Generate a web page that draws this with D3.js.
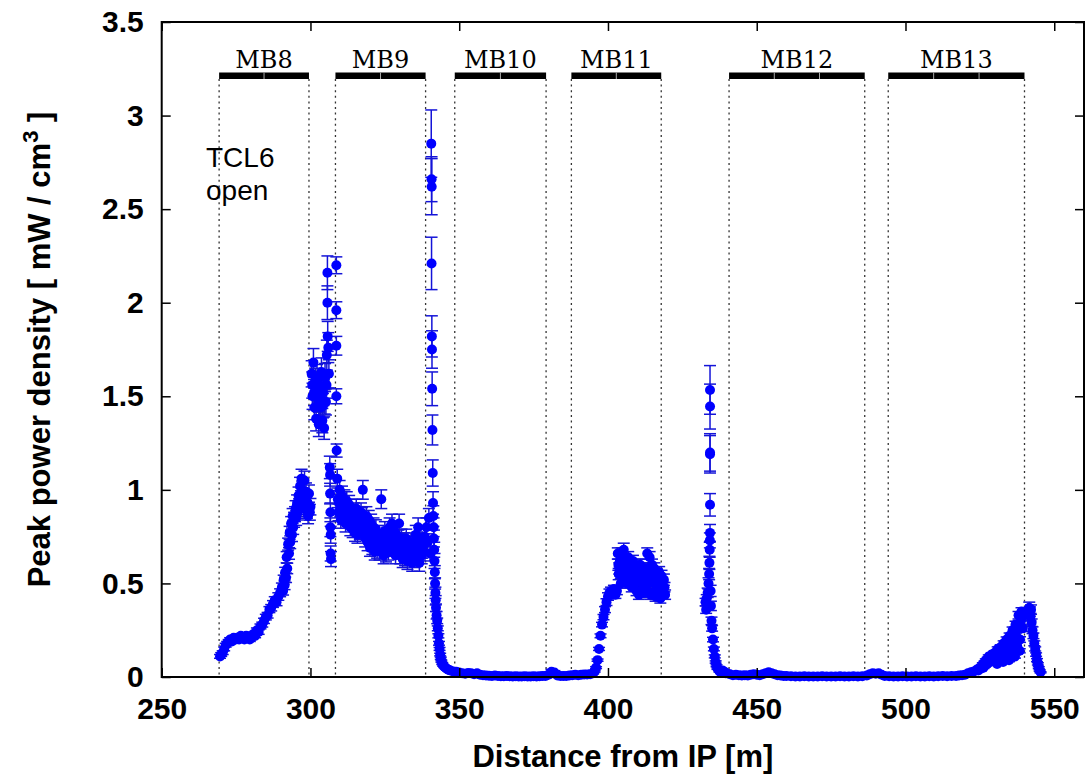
<!DOCTYPE html>
<html>
<head>
<meta charset="utf-8">
<script src="https://cdn.jsdelivr.net/npm/d3@7"></script>
<style>
    body { margin: 0; background: #fff; }
    svg { display: block; }
    .axis text { font-family: "Liberation Sans", Arial, sans-serif; font-weight: bold; font-size: 30px; fill: #000; }
    .axis line { stroke: #000; stroke-width: 1.5px; }
    .axis path { display: none; }
</style>
</head>
<body>
<svg id="chart" width="1087" height="774"></svg>
<script>
// tick values
const xTicks = [250, 300, 350, 400, 450, 500, 550];
const yTicks = [0, 0.5, 1, 1.5, 2, 2.5, 3, 3.5];

// dipole magnets along the line
const magnetNames = ['MB8', 'MB9', 'MB10', 'MB11', 'MB12', 'MB13'];
const magnetStart = [269.3, 308.4, 348.5, 387.7, 440.7, 494.2];
const magnetEnd = [299.5, 338.7, 379.2, 417.9, 486.3, 540.0];
const magnetSegments = [2, 2, 2, 2, 3, 3];

// [distance m, peak power density mW/cm3, error]
const mb8Points = [
    [269.6,0.11,0.01],[270.0,0.12,0.01],[270.5,0.13,0.01],[271.0,0.15,0.01],[271.5,0.17,0.01],[272.0,0.18,0.01],
    [272.5,0.19,0.01],[273.0,0.2,0.01],[273.6,0.19,0.01],[274.2,0.21,0.01],[274.8,0.2,0.01],[275.4,0.21,0.01],
    [276.0,0.2,0.01],[276.6,0.22,0.01],[277.2,0.21,0.01],[277.8,0.2,0.01],[278.4,0.22,0.01],[279.0,0.21,0.01],
    [279.6,0.2,0.01],[280.2,0.21,0.01],[280.8,0.23,0.01],[281.4,0.22,0.01],[282.0,0.25,0.012],[282.6,0.24,0.012],
    [283.2,0.27,0.013],[283.8,0.28,0.013],[284.4,0.3,0.014],[285.0,0.32,0.015],[285.6,0.33,0.015],[286.2,0.36,0.016],
    [286.8,0.37,0.017],[287.4,0.39,0.018],[288.0,0.41,0.019],[288.6,0.4,0.019],[289.2,0.43,0.02],[289.8,0.45,0.021],
    [290.4,0.48,0.022],[291.0,0.52,0.024],[291.5,0.56,0.026],[292.0,0.64,0.03],[292.5,0.71,0.032],[293.0,0.77,0.035],
    [293.5,0.82,0.037],[294.0,0.86,0.04],[294.5,0.84,0.04],[295.0,0.9,0.042],[295.5,0.93,0.043],[296.0,0.97,0.045],
    [296.5,1.02,0.047],[297.0,1.06,0.05],[297.5,0.96,0.045],[298.0,1.05,0.05],[298.5,0.99,0.047],[299.0,0.93,0.045],
    [299.5,0.98,0.046],[300.0,0.91,0.044],
    [290.8,0.46,0.022],[291.3,0.49,0.023],[291.8,0.53,0.025],[292.2,0.58,0.028],[292.8,0.66,0.031],[293.2,0.72,0.034],
    [293.8,0.76,0.036],[294.2,0.8,0.038],[294.8,0.87,0.04],[295.2,0.85,0.04],[295.8,0.88,0.041],[296.2,0.91,0.043],
    [296.8,0.95,0.045],[297.2,1.0,0.047],[297.8,0.9,0.043],[298.2,0.95,0.045],[298.8,0.89,0.042],[299.2,0.86,0.041],
    [299.8,0.88,0.042]
];
const peakPoints = [
    [300.4,1.62,0.07],[300.7,1.5,0.07],[301.0,1.68,0.075],[301.3,1.44,0.065],[301.6,1.58,0.07],[301.9,1.38,0.065],
    [302.2,1.6,0.07],[302.5,1.49,0.07],[302.8,1.35,0.065],[303.1,1.56,0.07],[303.4,1.44,0.065],[303.7,1.63,0.075],
    [304.0,1.37,0.065],[304.3,1.52,0.07],[304.6,1.33,0.06],[304.9,1.6,0.075],[305.2,1.47,0.07],[305.5,1.72,0.08],
    [305.7,2.16,0.09],[305.7,2.0,0.09],[305.8,1.82,0.08],[306.0,1.76,0.08],[306.2,1.62,0.075],
    [300.6,1.56,0.07],[301.2,1.52,0.07],[301.8,1.5,0.07],[302.4,1.54,0.07],[303.0,1.46,0.065],[303.6,1.52,0.07],
    [304.2,1.45,0.065],[304.8,1.47,0.065],[305.4,1.56,0.07],
    [306.5,1.12,0.06],[306.6,1.08,0.06],[306.6,0.98,0.055],[306.7,0.88,0.05],[306.7,0.8,0.05],[306.8,0.76,0.045],
    [306.8,0.66,0.04],[306.9,0.63,0.04],
    [308.7,2.2,0.045],[308.7,1.96,0.045],[308.7,1.77,0.05],[308.7,1.5,0.04],[308.8,1.21,0.035]
];
const mb9Points = [
    [309.0,1.06,0.05],[309.4,0.88,0.045],[309.8,1.0,0.05],[310.2,0.84,0.045],[310.6,0.97,0.05],[311.0,0.86,0.045],
    [311.4,0.95,0.05],[311.8,0.82,0.045],[312.2,0.94,0.05],[312.6,0.85,0.045],[313.0,0.92,0.05],[313.4,0.8,0.045],
    [313.8,0.9,0.05],[314.2,0.79,0.045],[314.6,0.88,0.05],[315.0,0.77,0.045],[315.4,0.9,0.05],[315.8,0.76,0.045],
    [316.2,0.86,0.05],[316.6,0.78,0.045],[317.0,0.88,0.05],[317.6,1.0,0.05],[318.0,0.82,0.045],[318.4,0.74,0.045],
    [318.8,0.86,0.05],[319.2,0.72,0.045],[319.6,0.84,0.05],[320.0,0.69,0.045],[320.4,0.82,0.05],[320.8,0.7,0.045],
    [321.2,0.8,0.05],[321.6,0.67,0.045],[322.0,0.79,0.05],[322.4,0.68,0.045],[322.8,0.76,0.05],[323.2,0.67,0.045],
    [323.8,0.95,0.05],[324.2,0.74,0.045],[324.6,0.65,0.045],[325.0,0.78,0.05],[325.4,0.66,0.045],[325.8,0.75,0.05],
    [326.2,0.67,0.045],[326.6,0.8,0.05],[327.0,0.69,0.045],[327.4,0.82,0.05],[327.8,0.71,0.045],[328.2,0.78,0.05],
    [328.6,0.65,0.045],[329.0,0.76,0.05],[329.4,0.68,0.045],[329.8,0.82,0.05],[330.2,0.65,0.045],[330.6,0.74,0.05],
    [331.0,0.63,0.045],[331.4,0.72,0.05],[331.8,0.64,0.045],[332.2,0.74,0.05],[332.6,0.62,0.045],[333.0,0.7,0.05],
    [333.4,0.64,0.045],[333.8,0.72,0.05],[334.2,0.61,0.045],[334.6,0.7,0.05],[335.0,0.63,0.045],[335.4,0.76,0.05],
    [335.8,0.67,0.045],[336.2,0.8,0.05],[336.6,0.61,0.045],[337.0,0.72,0.05],[337.4,0.65,0.045],[337.8,0.7,0.05],
    [309.2,0.95,0.045],[309.6,0.93,0.045],[310.0,0.9,0.045],[310.4,0.9,0.045],[310.8,0.91,0.045],[311.2,0.9,0.045],
    [311.6,0.88,0.045],[312.0,0.87,0.045],[312.4,0.88,0.045],[312.8,0.86,0.045],[313.2,0.85,0.045],[313.6,0.86,0.045],
    [314.0,0.84,0.045],[314.4,0.83,0.045],[314.8,0.82,0.045],[315.2,0.83,0.045],[315.6,0.82,0.045],[316.0,0.8,0.045],
    [316.4,0.82,0.045],[316.8,0.83,0.045],[317.3,0.86,0.045],[318.2,0.79,0.045],[318.6,0.8,0.045],[319.0,0.78,0.045],
    [319.4,0.77,0.045],[319.8,0.76,0.045],[320.2,0.75,0.045],[320.6,0.76,0.045],[321.0,0.74,0.045],[321.4,0.73,0.045],
    [321.8,0.73,0.045],[322.2,0.72,0.045],[322.6,0.72,0.045],[323.0,0.71,0.045],[323.5,0.72,0.045],[324.0,0.7,0.045],
    [324.4,0.7,0.045],[324.8,0.71,0.045],[325.2,0.71,0.045],[325.6,0.7,0.045],[326.0,0.71,0.045],[326.4,0.73,0.045],
    [326.8,0.74,0.045],[327.2,0.75,0.045],[327.6,0.76,0.045],[328.0,0.73,0.045],[328.4,0.71,0.045],[328.8,0.7,0.045],
    [329.2,0.72,0.045],[329.6,0.74,0.045],[330.0,0.72,0.045],[330.4,0.7,0.045],[330.8,0.68,0.045],[331.2,0.68,0.045],
    [331.6,0.68,0.045],[332.0,0.69,0.045],[332.4,0.68,0.045],[332.8,0.66,0.045],[333.2,0.67,0.045],[333.6,0.68,0.045],
    [334.0,0.66,0.045],[334.4,0.65,0.045],[334.8,0.66,0.045],[335.2,0.69,0.045],[335.6,0.71,0.045],[336.0,0.73,0.045],
    [336.4,0.7,0.045],[336.8,0.67,0.045],[337.2,0.68,0.045],[337.6,0.68,0.045],[338.0,0.72,0.045],[338.4,0.75,0.045]
];
const spikePoints = [
    [339.0,0.8,0.05],[339.4,0.72,0.045],[339.8,0.85,0.05],[340.2,0.66,0.04],
    [340.6,2.85,0.18],[340.7,2.66,0.12],[340.75,2.62,0.15],[340.7,2.21,0.14],[340.8,1.82,0.11],[340.85,1.75,0.1],
    [340.9,1.54,0.09],[341.0,1.32,0.08],[341.1,1.09,0.07],[341.2,0.93,0.06],[341.3,0.86,0.055],[341.4,0.8,0.05],
    [341.5,0.74,0.045],[341.6,0.68,0.04],[341.7,0.62,0.04],[341.8,0.56,0.035],[341.9,0.5,0.03],[342.0,0.45,0.03],
    [342.1,0.41,0.025],[342.2,0.37,0.02],[342.4,0.33,0.02]
];
const tailPoints = [
    [342.6,0.3,0.015],[342.8,0.26,0.013],[343.0,0.22,0.011],[343.2,0.18,0.01],[343.4,0.15,0.008],[343.6,0.12,0.007],
    [343.8,0.1,0.006],[344.0,0.085,0.005],[344.3,0.072,0.005],[344.6,0.062,0.004],[345.0,0.055,0.004],[345.5,0.048,0.004],
    [346.0,0.042,0.003],[346.5,0.038,0.003],[347.0,0.035,0.003],[348.0,0.03,0.003],[349.0,0.028,0.003],[350.0,0.024,0.003],
    [351.0,0.02,0.003],[352.0,0.018,0.003],[353.0,0.022,0.003],[354.0,0.02,0.003],[355.0,0.015,0.002],[356.0,0.02,0.003],
    [357.0,0.012,0.002],[358.0,0.01,0.002],[359.0,0.008,0.002],[360.0,0.007,0.002],[361.0,0.006,0.002],[362.0,0.008,0.002],
    [363.0,0.005,0.002],[364.0,0.004,0.002],[365.0,0.004,0.002],[366.0,0.005,0.002],[367.0,0.004,0.002],[368.0,0.003,0.002],
    [369.0,0.004,0.002],[370.0,0.003,0.002],[371.0,0.003,0.002],[372.0,0.004,0.002],[373.0,0.003,0.002],[374.0,0.003,0.002],
    [375.0,0.004,0.002],[376.0,0.003,0.002],[377.0,0.004,0.002],[378.0,0.005,0.002],[379.0,0.006,0.002],[380.0,0.012,0.004],
    [381.0,0.028,0.012],[381.5,0.02,0.008],[382.0,0.024,0.01],[383.0,0.008,0.003],[384.0,0.006,0.002],[385.0,0.005,0.002],
    [386.0,0.006,0.002],[387.0,0.008,0.002],[388.0,0.01,0.003],[389.0,0.012,0.003],[390.0,0.01,0.003],[391.0,0.012,0.003],
    [392.0,0.014,0.003],[393.0,0.013,0.003]
];
const mb11Points = [
    [394.0,0.015,0.003],[395.0,0.02,0.003],[395.5,0.03,0.004],[396.0,0.05,0.005],[396.5,0.09,0.006],[397.0,0.15,0.008],
    [397.5,0.22,0.01],[398.0,0.28,0.012],[398.5,0.32,0.014],[399.0,0.36,0.016],[399.5,0.4,0.018],[400.0,0.43,0.02],
    [400.5,0.45,0.02],[401.0,0.46,0.02],[401.5,0.44,0.02],[402.0,0.47,0.02],[402.5,0.44,0.02],[403.0,0.46,0.02],
    [403.3,0.66,0.03],[403.6,0.55,0.03],[404.0,0.62,0.03],[404.3,0.5,0.025],[404.6,0.66,0.03],[405.0,0.56,0.03],
    [405.3,0.68,0.035],[405.6,0.52,0.025],[406.0,0.62,0.03],[406.4,0.5,0.025],[406.8,0.64,0.03],[407.2,0.54,0.025],
    [407.6,0.6,0.03],[408.0,0.48,0.025],[408.4,0.62,0.03],[408.8,0.5,0.025],[409.2,0.6,0.03],[409.6,0.46,0.025],
    [410.0,0.58,0.03],[410.4,0.44,0.025],[410.8,0.6,0.03],[411.2,0.46,0.025],[411.6,0.56,0.03],[412.0,0.45,0.025],
    [412.4,0.58,0.03],[412.8,0.48,0.025],[413.2,0.66,0.03],[413.6,0.5,0.025],[414.0,0.64,0.03],[414.4,0.44,0.025],
    [414.8,0.6,0.03],[415.2,0.45,0.025],[415.6,0.58,0.03],[416.0,0.43,0.025],[416.4,0.55,0.03],[416.8,0.44,0.025],
    [417.2,0.56,0.03],[417.6,0.42,0.025],[418.0,0.54,0.03],[418.4,0.45,0.025],[418.8,0.52,0.03],[419.2,0.44,0.025],
    [403.5,0.6,0.03],[403.8,0.58,0.03],[404.2,0.57,0.03],[404.5,0.58,0.03],[404.8,0.6,0.03],[405.2,0.6,0.03],
    [405.5,0.6,0.03],[405.8,0.57,0.03],[406.2,0.56,0.03],[406.6,0.57,0.03],[407.0,0.58,0.03],[407.4,0.57,0.03],
    [407.8,0.54,0.025],[408.2,0.55,0.025],[408.6,0.56,0.025],[409.0,0.55,0.025],[409.4,0.53,0.025],[409.8,0.52,0.025],
    [410.2,0.51,0.025],[410.6,0.52,0.025],[411.0,0.53,0.025],[411.4,0.51,0.025],[411.8,0.5,0.025],[412.2,0.51,0.025],
    [412.6,0.53,0.025],[413.0,0.56,0.03],[413.4,0.58,0.03],[413.8,0.57,0.03],[414.2,0.54,0.025],[414.6,0.52,0.025],
    [415.0,0.52,0.025],[415.4,0.51,0.025],[415.8,0.5,0.025],[416.2,0.49,0.025],[416.6,0.49,0.025],[417.0,0.5,0.025],
    [417.4,0.49,0.025],[417.8,0.48,0.025],[418.2,0.49,0.025],[418.6,0.48,0.025],[419.0,0.48,0.025]
];
const spike2Points = [
    [432.8,0.4,0.02],[433.0,0.36,0.02],[433.2,0.42,0.02],[433.5,0.45,0.025],[433.8,0.5,0.03],[434.0,0.55,0.03],
    [434.1,0.61,0.035],[434.2,0.68,0.04],[434.25,0.73,0.04],[434.3,0.77,0.045],[434.3,0.92,0.06],[434.3,1.19,0.1],
    [434.3,1.2,0.1],[434.3,1.445,0.12],[434.3,1.534,0.13],[434.5,0.46,0.03],[434.6,0.38,0.025],[434.8,0.3,0.02],
    [435.0,0.26,0.015],[435.3,0.2,0.012],[435.6,0.15,0.01],[435.9,0.11,0.008],[436.2,0.08,0.006],[436.5,0.06,0.005],
    [436.8,0.045,0.004]
];
const tail2Points = [
    [437.5,0.03,0.004],[438.0,0.025,0.004],[438.5,0.035,0.005],[439.0,0.03,0.004],[439.5,0.02,0.004],[440.0,0.02,0.003],
    [441.0,0.015,0.003],[442.0,0.01,0.003],[443.0,0.012,0.003],[444.0,0.01,0.003],[445.0,0.008,0.002],[446.0,0.01,0.003],
    [447.0,0.008,0.002],[448.0,0.012,0.003],[449.0,0.015,0.003],[450.0,0.012,0.003],[451.0,0.01,0.003],[452.0,0.015,0.003],
    [453.0,0.02,0.004],[454.0,0.025,0.005],[455.0,0.02,0.004],[456.0,0.015,0.003],[457.0,0.01,0.003],[458.0,0.008,0.002],
    [459.0,0.006,0.002],[460.0,0.005,0.002],[461.5,0.004,0.002],[463.0,0.003,0.002],[464.5,0.003,0.002],[466.0,0.004,0.002],
    [467.5,0.003,0.002],[469.0,0.003,0.002],[470.5,0.003,0.002],[472.0,0.004,0.002],[473.5,0.003,0.002],[475.0,0.003,0.002],
    [476.5,0.003,0.002],[478.0,0.004,0.002],[479.5,0.003,0.002],[481.0,0.003,0.002],[482.5,0.004,0.002],[484.0,0.003,0.002],
    [485.5,0.004,0.002],[487.0,0.008,0.003],[488.0,0.015,0.004],[489.0,0.02,0.005],[490.0,0.018,0.004],[491.0,0.02,0.005],
    [492.0,0.012,0.003],[493.0,0.006,0.002],[494.5,0.004,0.002],[496.0,0.003,0.002],[497.5,0.003,0.002],[499.0,0.004,0.002],
    [500.5,0.003,0.002],[502.0,0.003,0.002],[503.5,0.004,0.002],[505.0,0.003,0.002],[506.5,0.003,0.002],[508.0,0.004,0.002],
    [509.5,0.003,0.002],[511.0,0.004,0.002],[512.5,0.005,0.002],[514.0,0.004,0.002],[515.5,0.005,0.002],[517.0,0.006,0.002],
    [518.0,0.008,0.002]
];
const mb13Points = [
    [519.0,0.01,0.002],[520.0,0.012,0.002],[521.0,0.02,0.003],[522.0,0.025,0.003],[523.0,0.03,0.004],[524.0,0.04,0.005],
    [524.5,0.035,0.004],[525.0,0.05,0.005],[525.5,0.045,0.005],[526.0,0.07,0.006],[526.5,0.06,0.006],[527.0,0.09,0.007],
    [527.5,0.07,0.006],[528.0,0.11,0.008],[528.5,0.08,0.007],[529.0,0.12,0.009],[529.5,0.09,0.007],[530.0,0.13,0.01],
    [530.5,0.09,0.008],[531.0,0.15,0.011],[531.5,0.1,0.008],[532.0,0.16,0.012],[532.5,0.1,0.008],[533.0,0.18,0.013],
    [533.5,0.11,0.009],[534.0,0.2,0.014],[534.5,0.12,0.01],[535.0,0.22,0.015],[535.5,0.14,0.011],[536.0,0.25,0.017],
    [536.5,0.15,0.012],[537.0,0.28,0.018],[537.5,0.17,0.013],[538.0,0.33,0.02],[538.5,0.2,0.015],[539.0,0.35,0.02],
    [539.4,0.26,0.017],[541.6,0.37,0.03],[541.8,0.35,0.025],[542.0,0.32,0.02],[542.2,0.36,0.025],[542.4,0.29,0.02],
    [542.7,0.25,0.018],[543.0,0.22,0.015],[543.3,0.18,0.013],[543.6,0.15,0.011],[543.9,0.12,0.009],[544.2,0.09,0.008],
    [544.5,0.07,0.006],[544.8,0.05,0.005],[545.1,0.035,0.004],[545.4,0.025,0.003],
    [526.2,0.05,0.005],[527.2,0.07,0.006],[528.2,0.09,0.007],[529.2,0.1,0.008],[530.2,0.11,0.008],[531.2,0.12,0.009],
    [532.2,0.13,0.01],[533.2,0.14,0.01],[534.2,0.15,0.011],[535.2,0.17,0.012],[536.2,0.19,0.013],[537.2,0.22,0.015],
    [538.2,0.26,0.017],[538.8,0.3,0.018],[539.2,0.32,0.02],[530.8,0.07,0.006],[532.8,0.08,0.007],[534.8,0.09,0.008],
    [536.8,0.11,0.009],[538.4,0.14,0.011]
];

const plot = {left: 161.7, right: 1084, top: 22, bottom: 677};
const dotRadius = 5, capHalf = 6;

const svg = d3.select('#chart');
const x = d3.scaleLinear().domain([250, 560]).range([plot.left, plot.right]);
const y = d3.scaleLinear().domain([0, 3.5]).range([plot.bottom, plot.top]);

// magnet bars with dotted boundaries
let mags = magnetNames.map((name, i) => ({name: name, start: magnetStart[i], end: magnetEnd[i], seg: magnetSegments[i]}));
let barY = 72.5, barH = 6.5;
let bounds = [];
mags.forEach(m => { bounds.push(m.start); bounds.push(m.end); });
svg.append('g').selectAll('line').data(bounds).enter().append('line')
    .attr('x1', d => x(d)).attr('x2', d => x(d))
    .attr('y1', barY + barH).attr('y2', plot.bottom)
    .style('stroke', '#333').style('stroke-width', 1.3).style('stroke-dasharray', '2,3.6');

let magG = svg.append('g').selectAll('g').data(mags).enter().append('g');
magG.append('rect')
    .attr('x', d => x(d.start)).attr('y', barY)
    .attr('width', d => x(d.end) - x(d.start)).attr('height', barH)
    .style('fill', '#000');
magG.each(function (d) {
    let step = (d.end - d.start) / d.seg;
    for (let k = 1; k < d.seg; k++) {
        d3.select(this).append('line')
            .attr('x1', x(d.start + k * step)).attr('x2', x(d.start + k * step))
            .attr('y1', barY).attr('y2', barY + barH)
            .style('stroke', '#aaa').style('stroke-width', 1);
    }
});
magG.append('text')
    .attr('x', d => (x(d.start) + x(d.end)) / 2).attr('y', 68)
    .attr('text-anchor', 'middle')
    .style('font-family', '"DejaVu Serif", serif').style('font-size', '24px')
    .text(d => d.name);

// TCL6 note, two lines
let noteStyle = s => s.style('font-family', '"Liberation Sans", Arial, sans-serif').style('font-size', '28px');
svg.append('text').attr('x', 206).attr('y', 167).call(noteStyle).text('TCL6');
svg.append('text').attr('x', 206).attr('y', 200).call(noteStyle).text('open');

// data points with error bars
let allPoints = [].concat(mb8Points, peakPoints, mb9Points, spikePoints, tailPoints,
    mb11Points, spike2Points, tail2Points, mb13Points);
let errG = svg.append('g').style('stroke', '#1414d8').style('stroke-width', 1.5);
allPoints.forEach(p => {
    let px = x(p[0]), y0 = y(p[1] - p[2]), y1 = y(p[1] + p[2]);
    errG.append('line').attr('x1', px).attr('x2', px).attr('y1', y0).attr('y2', y1);
    errG.append('line').attr('x1', px - capHalf).attr('x2', px + capHalf).attr('y1', y0).attr('y2', y0);
    errG.append('line').attr('x1', px - capHalf).attr('x2', px + capHalf).attr('y1', y1).attr('y2', y1);
});
svg.append('g').selectAll('circle').data(allPoints).enter().append('circle')
    .attr('cx', d => x(d[0])).attr('cy', d => y(d[1]))
    .attr('r', dotRadius)
    .style('fill', '#0000ff');

// axes, ticks pointing inward on all four sides
svg.append('g').attr('class', 'axis').attr('transform', 'translate(0,' + plot.bottom + ')')
    .call(d3.axisBottom(x).tickValues(xTicks).tickSize(-9).tickPadding(21).tickFormat(d3.format('d')));
svg.append('g').attr('class', 'axis').attr('transform', 'translate(0,' + plot.top + ')')
    .call(d3.axisTop(x).tickValues(xTicks).tickSize(-9).tickFormat(''));
svg.append('g').attr('class', 'axis').attr('transform', 'translate(' + plot.left + ',0)')
    .call(d3.axisLeft(y).tickValues(yTicks).tickSize(-9).tickPadding(18).tickFormat(d => String(d)));
svg.append('g').attr('class', 'axis').attr('transform', 'translate(' + plot.right + ',0)')
    .call(d3.axisRight(y).tickValues(yTicks).tickSize(-9).tickFormat(''));

svg.append('rect')
    .attr('x', plot.left).attr('y', plot.top)
    .attr('width', plot.right - plot.left).attr('height', plot.bottom - plot.top)
    .style('fill', 'none').style('stroke', '#000').style('stroke-width', 2);

// axis titles
svg.append('text')
    .attr('x', (plot.left + plot.right) / 2).attr('y', 767)
    .attr('text-anchor', 'middle')
    .style('font-family', '"Liberation Sans", Arial, sans-serif').style('font-weight', 'bold').style('font-size', '31px')
    .text('Distance from IP [m]');

let yTitle = svg.append('text')
    .attr('transform', 'translate(50,' + ((plot.top + plot.bottom) / 2) + ') rotate(-90)')
    .attr('text-anchor', 'middle')
    .style('font-family', '"Liberation Sans", Arial, sans-serif').style('font-weight', 'bold').style('font-size', '31px');
yTitle.append('tspan').text('Peak power density [ mW / cm');
yTitle.append('tspan').attr('dy', -12).style('font-size', '22px').text('3');
yTitle.append('tspan').attr('dy', 12).text(' ]');
</script>
</body>
</html>
